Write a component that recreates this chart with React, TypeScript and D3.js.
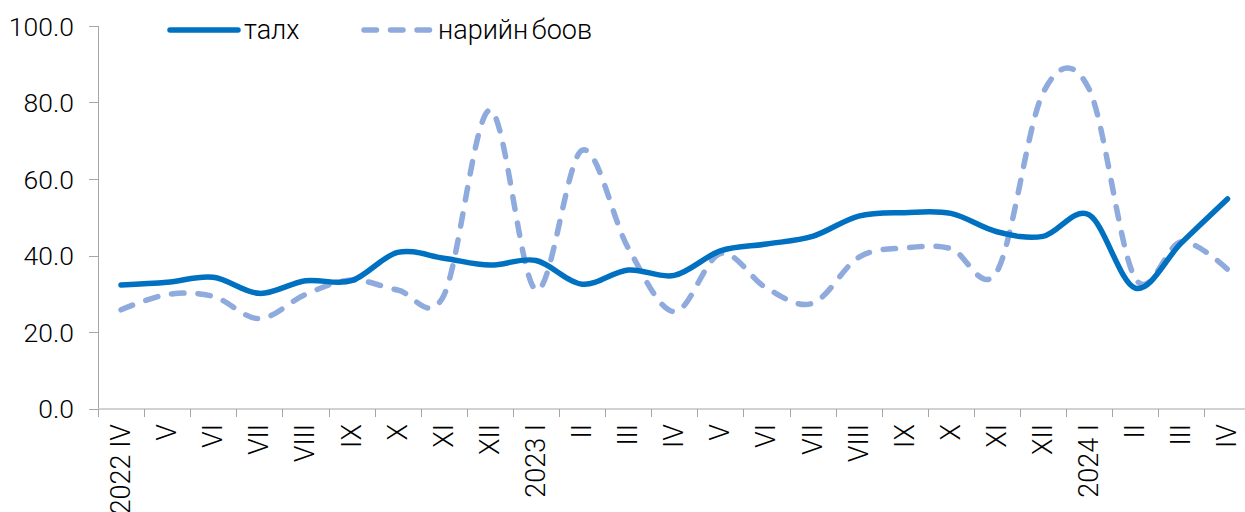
import React from "react";
import * as d3 from "d3";

const categories = ["2022 IV","V","VI","VII","VIII","IX","X","XI","XII","2023 I","II","III","IV","V","VI","VII","VIII","IX","X","XI","XII","2024 I","II","III","IV"];
const talx = [32.3, 33.0, 34.3, 30.1, 33.4, 33.4, 40.8, 39.3, 37.5, 38.7, 32.5, 36.2, 34.8, 41.2, 43.0, 45.0, 50.3, 51.2, 51.0, 46.2, 45.0, 50.6, 31.5, 43.3, 54.8];
const nariinBoov = [25.8, 29.8, 29.3, 23.5, 29.8, 33.6, 31.0, 29.5, 78.0, 31.0, 67.5, 42.0, 25.3, 40.5, 31.5, 27.5, 39.5, 42.0, 41.8, 35.8, 82.5, 83.5, 34.0, 43.6, 36.4];
const yTicks = [0, 20, 40, 60, 80, 100];
const seriesNames = ["талх", "нарийн боов"];

const W = 1245, H = 512;
const FONT = "Roboto, 'Noto Sans', sans-serif";

export default function App() {
  const x = d3.scaleBand<number>().domain(d3.range(categories.length)).range([98, 98 + 46.1 * categories.length]).padding(0);
  const y = d3.scaleLinear().domain([0, 100]).range([408.5, 26]);
  const cx = (i: number) => (x(i) as number) + x.bandwidth() / 2;
  const line = d3.line<number>().x((_, i) => cx(i)).y(d => y(d)).curve(d3.curveCardinal.tension(0));
  const axisColor = "#a6a6a6";
  return (
    <svg width={W} height={H} style={{ position: "absolute", left: 0, top: 0, background: "#fff" }} fontFamily={FONT}>
      {/* y axis */}
      <line x1={98.5} x2={98.5} y1={y(100)} y2={y(0)} stroke={axisColor} strokeWidth={1} />
      {yTicks.map(t => (
        <g key={t}>
          <line x1={89} x2={98.5} y1={Math.round(y(t)) + 0.5} y2={Math.round(y(t)) + 0.5} stroke={axisColor} strokeWidth={1} />
          <text x={74} y={y(t)} textAnchor="end" dominantBaseline="central" fontSize={26.5} fontWeight={300} fill="#000">{t.toFixed(1)}</text>
        </g>
      ))}
      {/* x axis */}
      <line x1={98} x2={W} y1={409} y2={409} stroke={axisColor} strokeWidth={1.2} />
      {categories.map((c, i) => (
        <g key={i}>
          <line x1={Math.round(x(i) as number) + 0.5} x2={Math.round(x(i) as number) + 0.5} y1={409} y2={417} stroke={axisColor} strokeWidth={1} />
          <text transform={`translate(${cx(i)},424) rotate(-90)`} textAnchor="end" dominantBaseline="central" fontSize={27} fontWeight={300} fill="#000">{c}</text>
        </g>
      ))}
      {/* series */}
      <path d={line(nariinBoov) || ""} fill="none" stroke="#8FAADC" strokeWidth={5.5} strokeDasharray="12.5 14" strokeLinecap="round" strokeLinejoin="round" />
      <path d={line(talx) || ""} fill="none" stroke="#0070C0" strokeWidth={5.5} strokeLinecap="round" strokeLinejoin="round" />
      {/* legend */}
      <line x1={170} x2={238} y1={30} y2={30} stroke="#0070C0" strokeWidth={5.5} strokeLinecap="round" />
      <text x={244} y={39} fontSize={27} fontWeight={300} fill="#000">{seriesNames[0]}</text>
      <line x1={364} x2={432} y1={30} y2={30} stroke="#8FAADC" strokeWidth={5.5} strokeDasharray="12.5 14" strokeLinecap="round" />
      <text x={438} y={39} fontSize={27} fontWeight={300} fill="#000" wordSpacing={-3}>{seriesNames[1]}</text>
    </svg>
  );
}
